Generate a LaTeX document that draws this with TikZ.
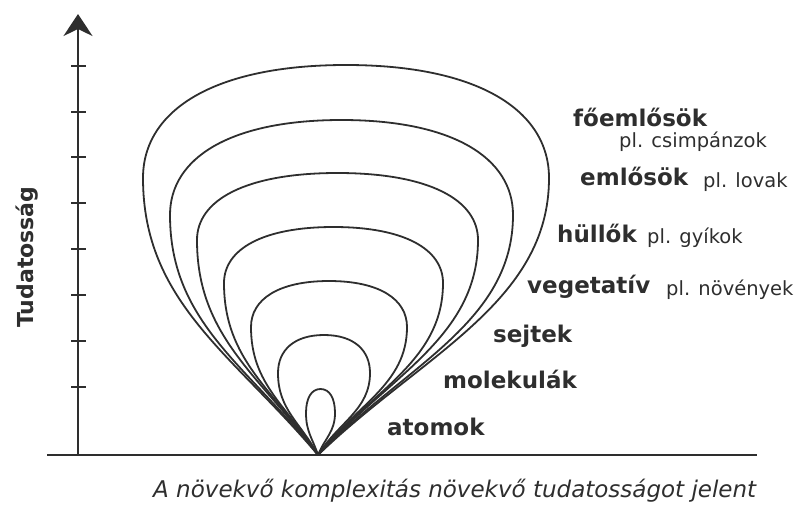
\documentclass[tikz,border=0pt]{standalone}
\usepackage{fontspec}
\setmainfont{DejaVu Sans}
\usetikzlibrary{arrows.meta}
\definecolor{ink}{HTML}{2E2E2E}
\begin{document}
\begin{tikzpicture}[x=1pt,y=-1pt,line join=round,
  lbl/.style={anchor=base west,inner sep=0pt,text=ink,font=\fontsize{23}{23}\selectfont\bfseries},
  sub/.style={anchor=base west,inner sep=0pt,text=ink,font=\fontsize{19.5}{19.5}\selectfont},
  captiontext/.style={anchor=base west,inner sep=0pt,text=ink,font=\fontsize{23}{23}\selectfont\itshape},
  axisline/.style={draw=ink,line width=2pt},
  tickline/.style={draw=ink,line width=1.8pt},
  loopline/.style={draw=ink,line width=1.8pt}]
\useasboundingbox (0,0) rectangle (805,504);
% axes
\coordinate (O) at (78,455);
\coordinate (Ytop) at (78,14);
\coordinate (Xl) at (47,455);
\coordinate (Xr) at (757,455);
\draw[axisline,-{Stealth[length=22pt,width=29pt,inset=7pt]}] (O) -- (Ytop);
\draw[axisline] (Xl) -- (Xr);
\foreach \y in {66,112,157,203,249,295,341,387}
  \draw[tickline] (71,\y) -- (86,\y);
\node[anchor=base west,inner sep=0pt,text=ink,rotate=90,font=\fontsize{22}{22}\selectfont\bfseries] (ylab) at (33,328) {Tudatosság};
% loops
\coordinate (A) at (318,455);
\foreach \L/\R/\T/\Y/\aL/\aR in {143/549/65/178/50/44, 170/513/120/215/52/46, 197/478/173/240/54/48, 224/443/227/283/56/50, 251/407/281/327/58/53, 278/370/335/373/62/58, 306/335/389/413/72/68}{
  \pgfmathsetmacro\cx{(\L+\R)/2}
  \pgfmathsetmacro\hA{\Y-\T}
  \pgfmathsetmacro\hB{455-\Y}
  \pgfmathsetmacro\dL{40*sqrt(((318-\L)/100)^2+(\hB/100)^2)}
  \pgfmathsetmacro\dR{40*sqrt(((\R-318)/100)^2+(\hB/100)^2)}
  \pgfmathsetmacro\pLx{318-\dL*cos(\aL)}
  \pgfmathsetmacro\pLy{455-\dL*sin(\aL)}
  \pgfmathsetmacro\pRx{318+\dR*cos(\aR)}
  \pgfmathsetmacro\pRy{455-\dR*sin(\aR)}
  \pgfmathsetmacro\q{\Y+0.45*\hB}
  \pgfmathsetmacro\r{\Y-0.6*\hA}
  \pgfmathsetmacro\sL{\cx-0.65*(\cx-\L)}
  \pgfmathsetmacro\sR{\cx+0.65*(\R-\cx)}
  \draw[loopline] (A) .. controls (\pLx,\pLy) and (\L,\q) .. (\L,\Y)
     .. controls (\L,\r) and (\sL,\T) .. (\cx,\T)
     .. controls (\sR,\T) and (\R,\r) .. (\R,\Y)
     .. controls (\R,\q) and (\pRx,\pRy) .. (A);
}
% labels
\node[lbl] (l1) at (573,126) {főemlősök};
\node[sub] (s1) at (619,147) {pl. csimpánzok};
\node[lbl] (l2) at (580,185) {emlősök};
\node[sub] (s2) at (703,187) {pl. lovak};
\node[lbl] (l3) at (557,242) {hüllők};
\node[sub] (s3) at (647,243) {pl. gyíkok};
\node[lbl] (l4) at (527,293) {vegetatív};
\node[sub] (s4) at (666,295) {pl. növények};
\node[lbl] (l5) at (493,342) {sejtek};
\node[lbl] (l6) at (443,388) {molekulák};
\node[lbl] (l7) at (387,435) {atomok};
\node[captiontext] (caption) at (153,497) {A növekvő komplexitás növekvő tudatosságot jelent};
\end{tikzpicture}
\end{document}
